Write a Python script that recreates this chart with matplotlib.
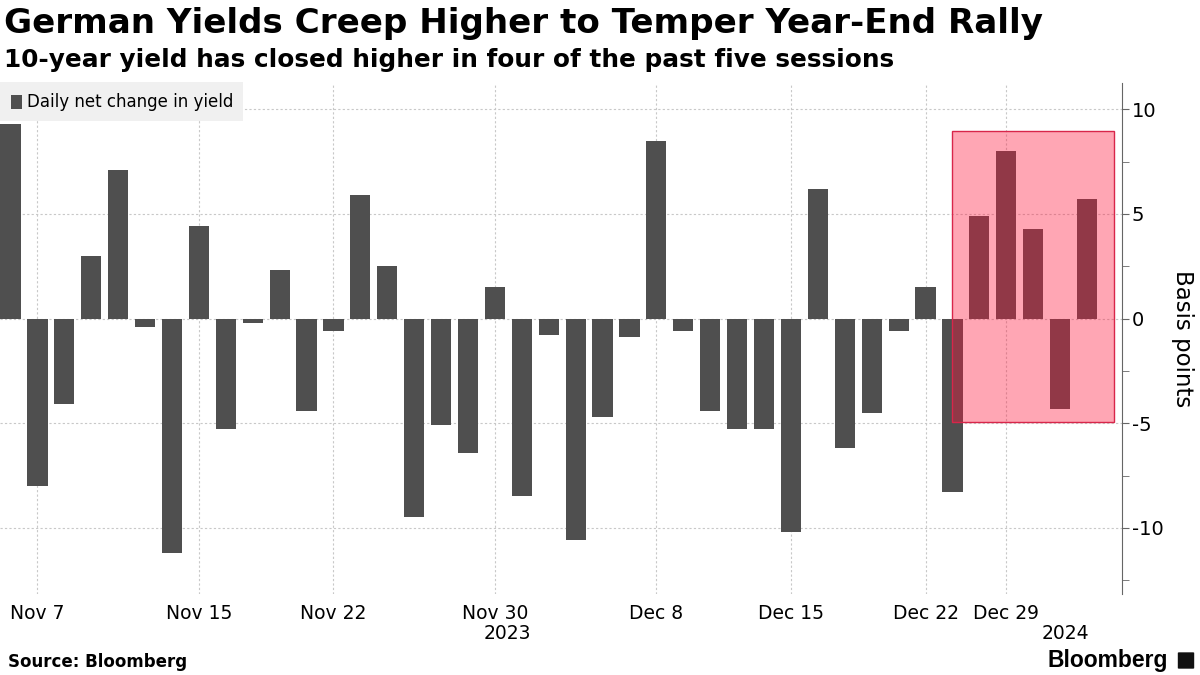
import numpy as np
import pandas as pd
import matplotlib
matplotlib.use("Agg")
import matplotlib.pyplot as plt
from matplotlib.patches import Rectangle, FancyBboxPatch
from matplotlib.ticker import FixedLocator

# sessions (German trading days, Xmas / New Year closed)
dias = pd.bdate_range("2023-11-06", "2024-01-04")
dias = dias[~dias.isin(pd.to_datetime(["2023-12-25", "2023-12-26", "2024-01-01"]))]

# daily net change in 10y Bund yield, basis points
cambios = [9.3, -8.0, -4.1, 3.0, 7.1, -0.4, -11.2, 4.4, -5.3, -0.2,
           2.3, -4.4, -0.6, 5.9, 2.5, -9.5, -5.1, -6.4, 1.5, -8.5,
           -0.8, -10.6, -4.7, -0.9, 8.5, -0.6, -4.4, -5.3, -5.3, -10.2,
           6.2, -6.2, -4.5, -0.6, 1.5, -8.3, 4.9, 8.0, 4.3, -4.3, 5.7]

etiquetas = ["Nov 7", "Nov 15", "Nov 22", "Nov 30", "Dec 8", "Dec 15", "Dec 22", "Dec 29"]
fechas_eti = ["2023-11-07", "2023-11-15", "2023-11-22", "2023-11-30",
              "2023-12-08", "2023-12-15", "2023-12-22", "2023-12-29"]

# highlighted window (last five sessions)
caja_ini, caja_fin = "2023-12-27", "2024-01-04"
caja_min, caja_max = -4.95, 8.95

GRIS = "#4f4f4f"
FUENTE = "DejaVu Sans"

fig = plt.figure(figsize=(12, 6.75), dpi=100)
ax = fig.add_axes([0.0, 0.12, 0.935, 0.7575])

x = np.arange(len(dias))
ax.bar(x, cambios, width=0.75, color=GRIS, zorder=2)

i0 = list(dias).index(pd.Timestamp(caja_ini))
i1 = list(dias).index(pd.Timestamp(caja_fin)) + 1
ax.add_patch(Rectangle((i0, caja_min), i1 - i0, caja_max - caja_min,
                       facecolor="#ff153a", alpha=0.38, edgecolor="none", zorder=3))
ax.add_patch(Rectangle((i0, caja_min), i1 - i0, caja_max - caja_min,
                       facecolor="none", edgecolor="#d8264a", lw=1.0, zorder=4))

ax.set_xlim(-0.39, 41.3)
ax.set_ylim(-13.16, 11.27)

pos = [list(dias).index(pd.Timestamp(f)) for f in fechas_eti]
ax.set_xticks(pos)
ax.set_xticklabels(etiquetas, fontsize=13.5, family=FUENTE)
ax.tick_params(axis="x", length=0, pad=7)

ax.yaxis.tick_right()
ax.yaxis.set_label_position("right")
ax.yaxis.set_major_locator(FixedLocator([-10, -5, 0, 5, 10]))
ax.yaxis.set_minor_locator(FixedLocator([-12.5, -7.5, -2.5, 2.5, 7.5]))
ax.set_yticklabels(["-10", "-5", "0", "5", "10"], fontsize=14, family=FUENTE)
ax.tick_params(axis="y", which="both", length=5, color="#666666", direction="out", pad=2)
ax.set_ylabel("Basis points", fontsize=16.5, family=FUENTE, rotation=270, labelpad=22)

for s in ["top", "left", "bottom"]:
    ax.spines[s].set_visible(False)
ax.spines["right"].set_color("#666666")

ax.grid(True, which="major", color="#c8c8c8", linestyle=(0, (2, 2)), lw=0.8, zorder=0)

# year labels under the date ticks
ax.text(18.45, -0.078, "2023", transform=ax.get_xaxis_transform(), ha="center", va="center",
        fontsize=13.5, family=FUENTE)
ax.text(39.2, -0.078, "2024", transform=ax.get_xaxis_transform(), ha="center", va="center",
        fontsize=13.5, family=FUENTE)

# legend box
fig.patches.append(Rectangle((0, 1 - 121 / 675), 243 / 1200, 39 / 675, transform=fig.transFigure,
                             facecolor="#f0f0f0", edgecolor="none", zorder=5))
fig.patches.append(Rectangle((11 / 1200, 1 - 109 / 675), 11 / 1200, 14 / 675, transform=fig.transFigure,
                             facecolor=GRIS, edgecolor="none", zorder=6))
fig.text(27 / 1200, 1 - 102 / 675, "Daily net change in yield", fontsize=12, family=FUENTE,
         va="center", ha="left", zorder=7)

fig.text(4 / 1200, 1 - 24 / 675, "German Yields Creep Higher to Temper Year-End Rally",
         fontsize=24.6, fontweight="bold", family="DejaVu Sans", va="center", ha="left")
fig.text(4 / 1200, 1 - 60 / 675, "10-year yield has closed higher in four of the past five sessions",
         fontsize=17.8, fontweight="bold", family="DejaVu Sans", va="center", ha="left")
fig.text(8 / 1200, 1 - 662 / 675, "Source: Bloomberg", fontsize=12, fontweight="bold",
         family="DejaVu Sans", va="center", ha="left")
fig.text(1168 / 1200, 1 - 660 / 675, "Bloomberg", fontsize=16.5, fontweight="bold",
         family="Liberation Sans", va="center", ha="right")
fig.patches.append(FancyBboxPatch((1179 / 1200, 1 - 668 / 675), 14 / 1200, 15 / 675,
                                  boxstyle="round,pad=0.001", transform=fig.transFigure,
                                  facecolor="#111111", edgecolor="none"))

fig.savefig("out.png", dpi=100)
